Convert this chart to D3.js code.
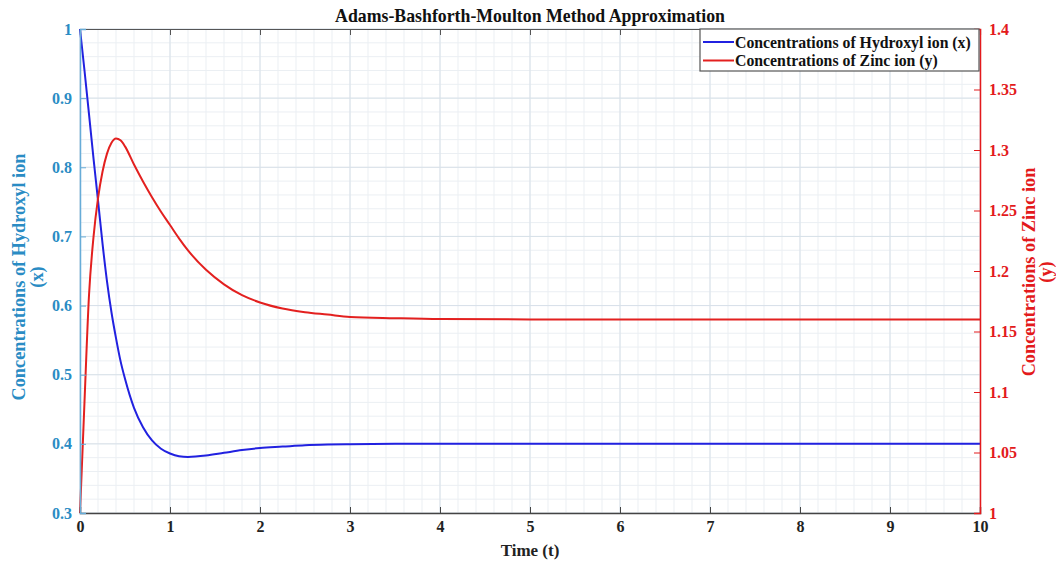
<!DOCTYPE html>
<html>
<head>
<meta charset="utf-8">
<script src="https://cdn.jsdelivr.net/npm/d3@7"></script>
<style>
  body { margin: 0; background: #fff; }
  text { font-family: "Liberation Serif", "Times New Roman", serif; font-weight: bold; }
</style>
</head>
<body>
<div class="chart"></div>
<script>
// time samples
var tVals = [0, 0.05, 0.1, 0.15, 0.2, 0.25, 0.3, 0.35, 0.4, 0.45, 0.5, 0.6, 0.7, 0.8, 0.9, 1.0,
  1.1, 1.2, 1.4, 1.6, 1.8, 2.0, 2.25, 2.5, 2.75, 3.0, 3.5, 4, 5, 6, 7, 8, 9, 10];
// hydroxyl ion (left axis)
var xVals = [1.0, 0.94, 0.877, 0.813, 0.752, 0.69, 0.635, 0.59, 0.553, 0.52, 0.494, 0.452, 0.424, 0.405, 0.393, 0.386,
  0.382, 0.381, 0.383, 0.387, 0.391, 0.394, 0.396, 0.398, 0.399, 0.3995, 0.4, 0.4, 0.4, 0.4, 0.4, 0.4, 0.4, 0.4];
// zinc ion (right axis)
var yVals = [1.0, 1.092, 1.18, 1.228, 1.26, 1.282, 1.297, 1.306, 1.3095, 1.308, 1.303, 1.288, 1.274, 1.261, 1.249, 1.238,
  1.227, 1.217, 1.201, 1.189, 1.18, 1.174, 1.169, 1.166, 1.164, 1.162, 1.161, 1.1603, 1.16, 1.16, 1.16, 1.16, 1.16, 1.16];

var xTicks = d3.range(0, 11, 1);
var leftTicks = [0.3, 0.4, 0.5, 0.6, 0.7, 0.8, 0.9, 1];
var rightTicks = [1, 1.05, 1.1, 1.15, 1.2, 1.25, 1.3, 1.35, 1.4];

var svgWidth = 1056, svgHeight = 564;
var margin = { top: 29, right: 76, bottom: 51, left: 80 };
var width = svgWidth - margin.left - margin.right;
var height = svgHeight - margin.top - margin.bottom;

var leftColor = "#2a8cc4", leftAxisColor = "#67acd8";
var rightColor = "#e31a1c";
var blueLine = "#2121e0", redLine = "#e3201f";

var svg = d3.select(".chart").append("svg")
  .attr("width", svgWidth)
  .attr("height", svgHeight);

var chartGroup = svg.append("g")
  .attr("transform", `translate(${margin.left}, ${margin.top})`);

var xScale = d3.scaleLinear().domain([0, 10]).range([0, width]);
var yLeft = d3.scaleLinear().domain([0.3, 1]).range([height, 0]);
var yRight = d3.scaleLinear().domain([1, 1.4]).range([height, 0]);

// minor grid
var minorX = d3.range(0, 10.001, 0.2);
var minorY = d3.range(0.3, 1.0001, 0.02);
chartGroup.append("g").selectAll("line.mx")
  .data(minorX).enter().append("line")
  .attr("x1", d => xScale(d)).attr("x2", d => xScale(d))
  .attr("y1", 0).attr("y2", height)
  .attr("stroke", "#ebeff3").attr("stroke-width", 1);
chartGroup.append("g").selectAll("line.my")
  .data(minorY).enter().append("line")
  .attr("x1", 0).attr("x2", width)
  .attr("y1", d => yLeft(d)).attr("y2", d => yLeft(d))
  .attr("stroke", "#ebeff3").attr("stroke-width", 1);

// major grid
chartGroup.append("g").selectAll("line")
  .data(xTicks).enter().append("line")
  .attr("x1", d => xScale(d)).attr("x2", d => xScale(d))
  .attr("y1", 0).attr("y2", height)
  .attr("stroke", "#d8e1e9").attr("stroke-width", 1);
chartGroup.append("g").selectAll("line")
  .data(leftTicks).enter().append("line")
  .attr("x1", 0).attr("x2", width)
  .attr("y1", d => yLeft(d)).attr("y2", d => yLeft(d))
  .attr("stroke", "#d8e1e9").attr("stroke-width", 1);

// curves
var lineX = d3.line()
  .x((d, i) => xScale(tVals[i]))
  .y(d => yLeft(d))
  .curve(d3.curveMonotoneX);
var lineY = d3.line()
  .x((d, i) => xScale(tVals[i]))
  .y(d => yRight(d))
  .curve(d3.curveMonotoneX);

chartGroup.append("path")
  .datum(xVals)
  .attr("d", lineX)
  .attr("fill", "none")
  .attr("stroke", blueLine)
  .attr("stroke-width", 2);

chartGroup.append("path")
  .datum(yVals)
  .attr("d", lineY)
  .attr("fill", "none")
  .attr("stroke", redLine)
  .attr("stroke-width", 2);

// bottom axis
var bottomAxis = d3.axisBottom(xScale).tickValues(xTicks).tickSize(-6).tickPadding(8).tickFormat(d3.format("d"));
var xAxis = chartGroup.append("g")
  .attr("transform", `translate(0, ${height})`)
  .call(bottomAxis);
xAxis.select(".domain").attr("stroke", "#444").attr("stroke-width", 1.5);
xAxis.selectAll(".tick line").attr("stroke", "#444");
xAxis.selectAll("text").attr("fill", "#222").style("font-size", "16px");

// top axis
var topAxis = d3.axisTop(xScale).tickValues(xTicks).tickSize(-6).tickFormat("");
var xTop = chartGroup.append("g").call(topAxis);
xTop.select(".domain").attr("stroke", "#555").attr("stroke-width", 1.2);
xTop.selectAll(".tick line").attr("stroke", "#555");

// left axis
var leftAxis = d3.axisLeft(yLeft).tickValues(leftTicks).tickSize(-6).tickPadding(8)
  .tickFormat(d => d === 1 ? "1" : d3.format(".1f")(d));
var yAxisL = chartGroup.append("g").call(leftAxis);
yAxisL.select(".domain").attr("stroke", leftAxisColor).attr("stroke-width", 1.5);
yAxisL.selectAll(".tick line").attr("stroke", leftAxisColor);
yAxisL.selectAll("text").attr("fill", leftColor).style("font-size", "16px");

// right axis
var rightAxis = d3.axisRight(yRight).tickValues(rightTicks).tickSize(-6).tickPadding(9)
  .tickFormat(d => (d === 1 ? "1" : String(+d.toFixed(2))));
var yAxisR = chartGroup.append("g")
  .attr("transform", `translate(${width}, 0)`)
  .call(rightAxis);
yAxisR.select(".domain").attr("stroke", rightColor).attr("stroke-width", 1.5);
yAxisR.selectAll(".tick line").attr("stroke", rightColor);
yAxisR.selectAll("text").attr("fill", rightColor).style("font-size", "16px");

// title
svg.append("text")
  .attr("x", margin.left + width / 2)
  .attr("y", 22)
  .attr("text-anchor", "middle")
  .attr("fill", "#111")
  .style("font-size", "17.8px")
  .text("Adams-Bashforth-Moulton Method Approximation");

// x label
svg.append("text")
  .attr("x", margin.left + width / 2)
  .attr("y", 556)
  .attr("text-anchor", "middle")
  .attr("fill", "#222")
  .style("font-size", "17px")
  .text("Time (t)");

// left y label
var ylabelL = svg.append("g")
  .attr("transform", "translate(0, 277) rotate(-90)")
  .attr("fill", leftColor)
  .style("text-anchor", "middle")
  .style("font-size", "18.3px");
ylabelL.append("text").attr("x", 0).attr("y", 25).text("Concentrations of Hydroxyl ion");
ylabelL.append("text").attr("x", 0).attr("y", 43).text("(x)");

// right y label
var ylabelR = svg.append("g")
  .attr("transform", "translate(0, 272) rotate(-90)")
  .attr("fill", rightColor)
  .style("text-anchor", "middle")
  .style("font-size", "18.3px");
ylabelR.append("text").attr("x", 0).attr("y", 1035).text("Concentrations of Zinc ion");
ylabelR.append("text").attr("x", 0).attr("y", 1052).text("(y)");

// legend
var legendItems = [
  { label: "Concentrations of Hydroxyl ion (x)", color: blueLine },
  { label: "Concentrations of Zinc ion (y)", color: redLine }
];
var legend = svg.append("g").attr("transform", "translate(700, 29)");
legend.append("rect")
  .attr("x", 0).attr("y", 0)
  .attr("width", 279).attr("height", 42)
  .attr("fill", "#fff")
  .attr("stroke", "#555")
  .attr("stroke-width", 1.2);
var rows = legend.selectAll("g.row")
  .data(legendItems).enter().append("g")
  .attr("transform", (d, i) => `translate(0, ${13 + i * 18.5})`);
rows.append("line")
  .attr("x1", 3).attr("x2", 34)
  .attr("y1", 0).attr("y2", 0)
  .attr("stroke", d => d.color).attr("stroke-width", 2);
rows.append("text")
  .attr("x", 35).attr("y", 5.5)
  .attr("fill", "#111")
  .style("font-size", "15.8px")
  .text(d => d.label);
</script>
</body>
</html>
